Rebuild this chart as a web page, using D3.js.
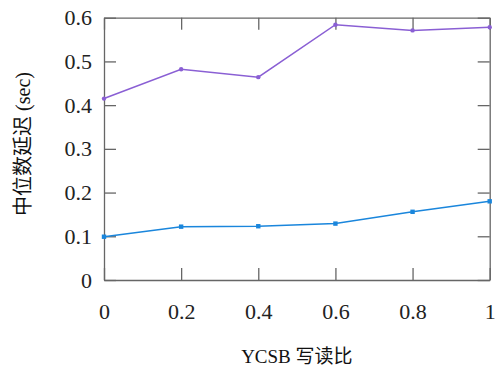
<!DOCTYPE html>
<html><head><meta charset="utf-8">
<script src="https://cdn.jsdelivr.net/npm/d3@7"></script>
<style>body{margin:0;background:#fff}svg{display:block}
text{font-family:"Liberation Serif","Noto Sans CJK SC",serif !important;}</style>
</head><body>
<svg id="c" width="503" height="374"></svg>
<script>
const xValues = [0, 0.2, 0.4, 0.6, 0.8, 1];
const seriesPurple = [0.415, 0.482, 0.464, 0.584, 0.571, 0.578];
const seriesBlue = [0.099, 0.122, 0.123, 0.129, 0.156, 0.180];
const xTicks = [0, 0.2, 0.4, 0.6, 0.8, 1];
const yTicks = [0, 0.1, 0.2, 0.3, 0.4, 0.5, 0.6];
const xLabel = "YCSB 写读比";
const yLabel = "中位数延迟 (sec)";

const svg = d3.select("#c");
const L = 104, R = 489.7, T = 17.7, B = 280;
const x = d3.scaleLinear().domain([0, 1]).range([L, R]);
const y = d3.scaleLinear().domain([0, 0.6]).range([B, T]);
const axisColor = "#666";
const fmt = d => d === 0 ? "0" : d === 1 ? "1" : d3.format(".1f")(d);

function style(g, showText) {
  g.attr("font-family", null);
  g.selectAll("path.domain").attr("stroke", axisColor).attr("stroke-width", 1.3);
  g.selectAll(".tick line").attr("stroke", axisColor).attr("stroke-width", 1.3);
  g.selectAll(".tick text").attr("font-size", 22).attr("fill", "#222");
  if (!showText) g.selectAll(".tick text").remove();
}

svg.append("g").attr("transform", `translate(0,${B})`)
  .call(d3.axisBottom(x).tickValues(xTicks).tickFormat(fmt).tickSizeInner(-12).tickSizeOuter(0).tickPadding(23))
  .call(g => style(g, true));
svg.append("g").attr("transform", `translate(0,${T})`)
  .call(d3.axisTop(x).tickValues(xTicks).tickSizeInner(-12).tickSizeOuter(0))
  .call(g => style(g, false));
svg.append("g").attr("transform", `translate(${L},0)`)
  .call(d3.axisLeft(y).tickValues(yTicks).tickFormat(fmt).tickSizeInner(-12).tickSizeOuter(0).tickPadding(12))
  .call(g => style(g, true));
svg.append("g").attr("transform", `translate(${R},0)`)
  .call(d3.axisRight(y).tickValues(yTicks).tickSizeInner(-12).tickSizeOuter(0))
  .call(g => style(g, false));

const line = d3.line().x((d, i) => x(xValues[i])).y(d => y(d));
const purple = "#8a5fd4", blue = "#1a86dc";

svg.append("path").datum(seriesPurple).attr("d", line)
  .attr("fill", "none").attr("stroke", purple).attr("stroke-width", 1.5);
svg.selectAll(".mp").data(seriesPurple).enter().append("circle")
  .attr("cx", (d, i) => x(xValues[i])).attr("cy", d => y(d)).attr("r", 2.2).attr("fill", purple);

svg.append("path").datum(seriesBlue).attr("d", line)
  .attr("fill", "none").attr("stroke", blue).attr("stroke-width", 1.5);
svg.selectAll(".mb").data(seriesBlue).enter().append("rect")
  .attr("x", (d, i) => x(xValues[i]) - 2.2).attr("y", d => y(d) - 2.2)
  .attr("width", 4.4).attr("height", 4.4).attr("fill", blue);

svg.append("text").attr("x", (L + R) / 2).attr("y", 363).attr("text-anchor", "middle")
  .attr("font-size", 19).attr("fill", "#111").text(xLabel);
svg.append("text").attr("transform", "translate(30,144) rotate(-90)").attr("text-anchor", "middle")
  .attr("font-size", 20).attr("fill", "#111").text(yLabel);
</script>
</body></html>
